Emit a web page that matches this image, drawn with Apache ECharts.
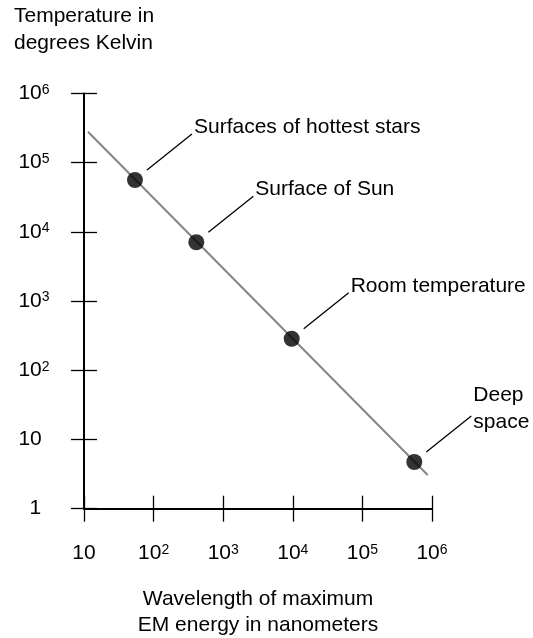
<!DOCTYPE html>
<html>
<head>
<meta charset="utf-8">
<script src="https://cdn.jsdelivr.net/npm/echarts@6/dist/echarts.min.js"></script>
<style>
  html, body { margin: 0; padding: 0; background: #fff; }
  #chart { width: 533px; height: 638px; }
</style>
</head>
<body>
<div id="chart"></div>
<script>
// ---- data ----
const categories = ['Surfaces of hottest stars', 'Surface of Sun', 'Room temperature', 'Deep\nspace'];
const wavelengthNm = [54, 411, 9640, 557000];
const temperatureK = [56200, 7080, 286, 4.73];
const lineWavelength = [11.4, 867000];
const lineTemperature = [280000, 3.07];
const xTickLabels = ['10', '10^2', '10^3', '10^4', '10^5', '10^6'];
const yTickLabels = ['1', '10', '10^2', '10^3', '10^4', '10^5', '10^6'];
const xTitle = 'Wavelength of maximum\nEM energy in nanometers';
const yTitle = 'Temperature in\ndegrees Kelvin';

// ---- helpers ----
const FONT = 'Liberation Sans, Arial, Helvetica, sans-serif';
function labelFor(list, minExp) {
  return function (v) {
    const e = Math.round(Math.log10(v));
    const s = list[e - minExp];
    if (s === undefined) return '';
    if (s === '1') return '{one|1}';
    const parts = s.split('^');
    return parts.length > 1 ? '{b|' + parts[0] + '}{sup|' + parts[1] + '}' : '{b|' + s + '}';
  };
}
const rich = {
  b: { fontSize: 21, fontFamily: FONT, color: '#000' },
  sup: { fontSize: 14, fontFamily: FONT, color: '#000', padding: [0, 0, 7, 0] },
  one: { fontSize: 21, fontFamily: FONT, color: '#000', padding: [0, 0, 0, 11] }
};

const lineData = lineWavelength.map((x, i) => [x, lineTemperature[i]]);
const pointData = wavelengthNm.map((x, i) => [x, temperatureK[i], i]);

function xAxisCfg(inside, withLabels) {
  return {
    type: 'log', logBase: 10, min: 10, max: 1e6, interval: 1,
    position: 'bottom',
    axisLine: { show: withLabels, lineStyle: { color: '#000', width: 2 } },
    axisTick: { show: true, inside: inside, length: 13, lineStyle: { color: '#000', width: 1.3 } },
    axisLabel: withLabels ? {
      show: true, margin: 34, formatter: labelFor(xTickLabels, 1), rich: rich,
      fontSize: 21, fontFamily: FONT, color: '#000'
    } : { show: false },
    splitLine: { show: false }, minorTick: { show: false },
    name: withLabels ? xTitle : '',
    nameLocation: 'middle', nameGap: 78,
    nameTextStyle: { fontSize: 21, fontFamily: FONT, color: '#000', lineHeight: 26 }
  };
}
function yAxisCfg(inside, withLabels) {
  return {
    type: 'log', logBase: 10, min: 1, max: 1e6, interval: 1,
    position: 'left',
    axisLine: { show: withLabels, lineStyle: { color: '#000', width: 2 } },
    axisTick: { show: true, inside: inside, length: 13, lineStyle: { color: '#000', width: 1.3 } },
    axisLabel: withLabels ? {
      show: true, margin: 65.6, align: 'left', formatter: labelFor(yTickLabels, 0), rich: rich,
      fontSize: 21, fontFamily: FONT, color: '#000'
    } : { show: false },
    splitLine: { show: false }, minorTick: { show: false }
  };
}

const chart = echarts.init(document.getElementById('chart'), null, { renderer: 'canvas' });
chart.setOption({
  animation: false,
  backgroundColor: '#fff',
  title: {
    text: yTitle, left: 9, top: -2,
    textStyle: { fontSize: 21, fontFamily: FONT, fontWeight: 'normal', color: '#000', lineHeight: 27 }
  },
  grid: { left: 84, right: 101, top: 93.5, bottom: 129.3, containLabel: false, outerBoundsMode: 'none' },
  xAxis: [xAxisCfg(false, true), xAxisCfg(true, false)],
  yAxis: [yAxisCfg(false, true), yAxisCfg(true, false)],
  series: [
    {
      type: 'line', xAxisIndex: 0, yAxisIndex: 0, data: lineData,
      showSymbol: false, symbol: 'none',
      lineStyle: { color: '#858585', width: 2 }, z: 2
    },
    {
      type: 'scatter', xAxisIndex: 0, yAxisIndex: 0, data: pointData,
      symbol: 'circle', symbolSize: 16,
      itemStyle: { color: '#000' }, z: 3
    },
    {
      type: 'custom', coordinateSystem: 'cartesian2d', xAxisIndex: 0, yAxisIndex: 0,
      data: pointData, clip: false, z: 4,
      renderItem: function (params, api) {
        const p = api.coord([api.value(0), api.value(1)]);
        const idx = api.value(2);
        return {
          type: 'group',
          children: [
            {
              type: 'line',
              shape: { x1: p[0] + 12, y1: p[1] - 10, x2: p[0] + 57, y2: p[1] - 46 },
              style: { stroke: '#000', lineWidth: 1.3 }
            },
            {
              type: 'text',
              style: {
                text: categories[idx], x: p[0] + 59, y: p[1] - 53,
                align: 'left', verticalAlign: 'middle',
                fontSize: 21, fontFamily: FONT, lineHeight: 27, fill: '#000'
              }
            }
          ]
        };
      }
    }
  ]
});
</script>
</body>
</html>
